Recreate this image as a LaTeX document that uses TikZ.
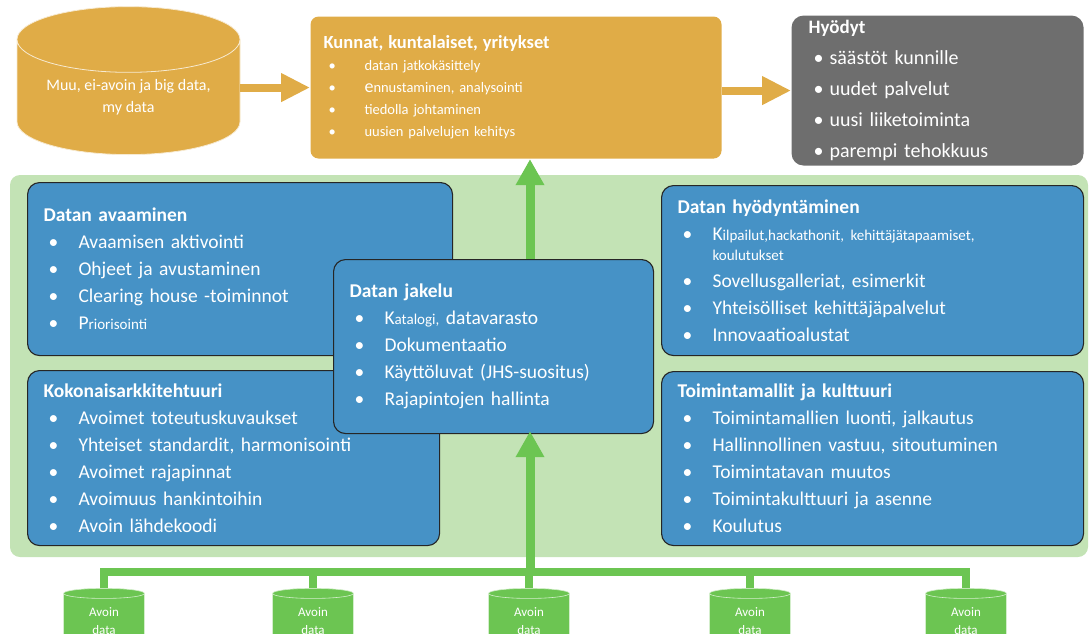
\documentclass[tikz,border=0pt]{standalone}
\usepackage{fontspec}
\setmainfont{Carlito}
\usepackage{tikz}
\usetikzlibrary{arrows.meta,shapes.geometric,positioning}
\usepackage{xcolor}
\definecolor{dforange}{RGB}{224,172,71}
\definecolor{dfgray}{RGB}{110,110,110}
\definecolor{dfblue}{RGB}{70,146,198}
\definecolor{dfpanel}{RGB}{195,227,181}
\definecolor{dfgreen}{RGB}{108,197,82}
\tikzstyle{bluebox} = [draw=black!85, line width=1.1pt, fill=dfblue, rounded corners=12pt, text=white, align=left, anchor=north west, inner xsep=16pt, inner ysep=0pt, font=\fontsize{19.5}{27}\selectfont]
\tikzstyle{fatarrow} = [line width=8pt, dforange, -{Triangle[length=29pt,width=27pt]}]
\tikzstyle{greenarrow} = [line width=9pt, dfgreen, -{Triangle[length=26pt,width=27pt]}]
\tikzstyle{bus} = [line width=8pt, dfgreen]
\tikzstyle{opendata} = [cylinder, shape border rotate=90, aspect=0.34, fill=dfgreen, draw=white!70!dfgreen, line width=0.6pt, text=white, align=center, minimum width=81pt, minimum height=60pt, inner sep=0pt, font=\fontsize{13}{18}\selectfont]
\newcommand{\itm}[2][30pt]{\hspace*{5pt}\makebox[#1][l]{\textbullet}#2}
\newcommand{\sm}[1]{{\fontsize{15}{20}\selectfont #1}}

\begin{document}
\begin{tikzpicture}[x=1pt, y=-1pt]
    \useasboundingbox (0,0) rectangle (1089,633);

    % Green panel
    \fill[dfpanel, rounded corners=10pt] (10,175) rectangle (1088,557);

    % Top row
    \node[cylinder, shape border rotate=90, aspect=0.4, fill=dforange, draw=white!75!dforange, line width=0.8pt,
          text=white, align=center, minimum width=223pt, minimum height=148pt, inner sep=0pt,
          font=\fontsize{16}{22}\selectfont, anchor=south] (muu) at (128.5,155) {Muu, ei-avoin ja big data,\\ my data};

    \node[bluebox, draw=none, fill=dforange, rounded corners=8pt, inner xsep=13pt, text width=385pt, minimum height=142pt,
          font=\fontsize{14.5}{22}\selectfont] (kunnat) at (310,16) {%
        {\fontsize{18.5}{22}\selectfont\bfseries Kunnat, kuntalaiset, yritykset}\\
        \itm[36pt]{datan jatkokäsittely}\\
        \itm[36pt]{{\fontsize{18}{22}\selectfont e}nnustaminen, analysointi}\\
        \itm[36pt]{tiedolla johtaminen}\\
        \itm[36pt]{uusien palvelujen kehitys}};

    \node[bluebox, draw=none, fill=dfgray, inner xsep=17pt, text width=258pt, minimum height=150pt,
          font=\fontsize{20}{31}\selectfont] (hyodyt) at (791,15) {%
        {\fontsize{19}{31}\selectfont\bfseries Hyödyt}\\
        \itm[16pt]{säästöt kunnille}\\
        \itm[16pt]{uudet palvelut}\\
        \itm[16pt]{uusi liiketoiminta}\\
        \itm[16pt]{parempi tehokkuus}};

    \draw[fatarrow] (muu.east |- kunnat.west) -- (kunnat.west);
    \draw[fatarrow] (kunnat.east |- hyodyt.west) -- (hyodyt.west);

    % Blue boxes
    \node[bluebox, text width=393pt, minimum height=173pt] (avaaminen) at (27,182) {%
        \textbf{Datan avaaminen}\\
        \itm{Avaamisen aktivointi}\\
        \itm{Ohjeet ja avustaminen}\\
        \itm{Clearing house -toiminnot}\\
        \itm{P\sm{riorisointi}}};

    \node[bluebox, text width=380pt, minimum height=175pt] (kokonais) at (27,370) {%
        \textbf{Kokonaisarkkitehtuuri}\\
        \itm{Avoimet toteutuskuvaukset}\\
        \itm{Yhteiset standardit, harmonisointi}\\
        \itm{Avoimet rajapinnat}\\
        \itm{Avoimuus hankintoihin}\\
        \itm{Avoin lähdekoodi}};

    \node[bluebox, text width=390pt, minimum height=170pt] (hyodynt) at (661,185) {%
        \textbf{Datan hyödyntäminen}\\
        \itm{K\sm{ilpailut,hackathonit, kehittäjätapaamiset,}}\\[-7pt]
        \hspace*{35pt}\sm{koulutukset}\\
        \itm{Sovellusgalleriat, esimerkit}\\
        \itm{Yhteisölliset kehittäjäpalvelut}\\
        \itm{Innovaatioalustat}};

    \node[bluebox, text width=390pt, minimum height=174pt] (toiminta) at (661,371) {%
        \textbf{Toimintamallit ja kulttuuri}\\
        \itm{Toimintamallien luonti, jalkautus}\\
        \itm{Hallinnollinen vastuu, sitoutuminen}\\
        \itm{Toimintatavan muutos}\\
        \itm{Toimintakulttuuri ja asenne}\\
        \itm{Koulutus}};

    \node[bluebox, text width=288pt, minimum height=174pt] (jakelu) at (333,259) {%
        \textbf{Datan jakelu}\\
        \itm{K\sm{atalogi,} datavarasto}\\
        \itm{Dokumentaatio}\\
        \itm{Käyttöluvat (JHS-suositus)}\\
        \itm{Rajapintojen hallinta}};

    % Open data sources
    \node[opendata] (d1) at (104,621) {Avoin\\data};
    \node[opendata] (d2) at (313,621) {Avoin\\data};
    \node[opendata] (d3) at (529,621) {Avoin\\data};
    \node[opendata] (d4) at (750,621) {Avoin\\data};
    \node[opendata] (d5) at (966,621) {Avoin\\data};

    \coordinate (hub) at (530,572);
    \draw[bus] (d1.north) |- (hub) -| (d5.north);
    \foreach \d in {d2,d3,d4}
        \draw[bus] (\d.north) -- (\d.north |- hub);

    % Green arrows
    \draw[greenarrow, shorten >=-3pt] (hub) -- (hub |- jakelu.south);
    \draw[greenarrow] (hub |- jakelu.north) -- (hub |- kunnat.south);
\end{tikzpicture}
\end{document}
